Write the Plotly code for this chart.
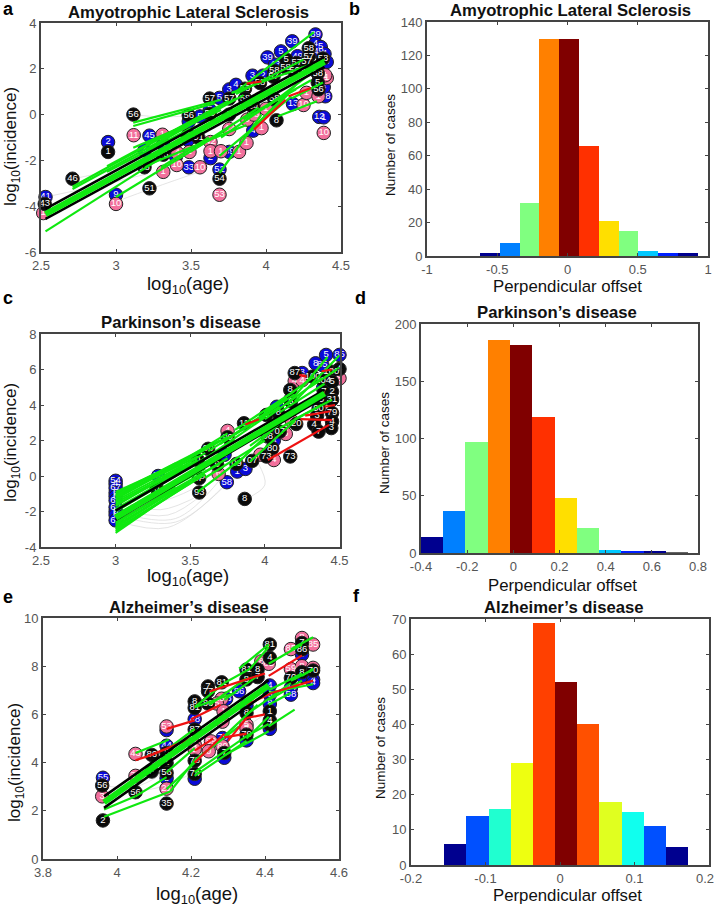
import plotly.graph_objects as go

W, H = 716, 906
BLUE, BLACK, PINK = "#0a0ad8", "#0a0a0a", "#f2709c"
GREEN, RED = "#0fe80f", "#ee1111"

# ---------- panel a: (log age, log incidence, label) ----------
A_BLUE = [(2.53,-3.6,"41"),(2.947,-1.2,"2"),(3.0,-3.5,"9"),(3.223,-0.92,"45"),(3.19,-1.56,"4"),(3.315,-1.3,"4"),(3.4,-1.82,"9"),
          (3.485,-2.3,"33"),(3.485,-0.3,"5"),(3.56,-0.08,"5"),(3.48,-1.1,"4"),(3.625,0.2,"5"),(3.63,-1.9,"2"),(3.69,-2.4,"52"),
          (3.755,-1.63,"49"),(3.69,0.73,"5"),(3.755,1.1,"3"),(3.80,1.3,"4"),(3.915,-0.7,"4"),(3.91,1.7,"3"),(3.98,1.7,"2"),
          (4.01,2.5,"39"),(4.06,2.18,"43"),(4.10,2.76,"5"),(4.175,3.2,"39"),(4.21,2.55,"49"),(4.18,0.46,"13"),(4.33,3.5,"39"),
          (4.33,3.1,"4"),(4.35,2.75,"49"),(4.365,2.95,"5"),(4.39,2.65,"4"),(4.405,2.3,"8"),(4.355,-0.1,"12"),(4.385,-0.12,"1"),
          (4.395,0.8,"28"),(4.385,1.2,"4")]
A_BLACK = [(2.525,-3.9,"43"),(2.71,-2.8,"46"),(2.947,-1.63,"1"),(3.116,0,"56"),(3.223,-3.22,"51"),(3.315,-1.75,"43"),(3.19,-2.3,"18"),
           (3.485,-0.03,"56"),(3.55,-1.02,"91"),(3.48,-0.88,"4"),(3.625,0.03,"58"),(3.625,0.7,"57"),(3.69,-2.8,"54"),(3.755,0.7,"57"),
           (3.755,0,"5"),(3.86,1.13,"53"),(3.86,0.7,"58"),(3.915,0.33,"54"),(3.96,1.38,"58"),(4.055,0.68,"58"),(4.07,-0.25,"8"),
           (4.055,1.9,"58"),(4.05,1.65,"57"),(4.13,2.06,"58"),(4.135,2.4,"5"),(4.205,2.25,"57"),(4.19,1.9,"56"),(4.285,2.9,"58"),
           (4.285,2.55,"57"),(4.27,2.3,"57"),(4.345,1.8,"58"),(4.35,1.1,"56"),(4.345,1.4,"5"),(4.38,2.45,"58")]
A_PINK = [(2.515,-4.3,"1"),(3.0,-3.9,"10"),(3.118,-0.9,"11"),(3.31,-0.88,"1"),(3.315,-2.5,"1"),(3.405,-2.2,"10"),(3.56,-2.3,"10"),
          (3.49,-1.63,"1"),(3.41,-1.68,"4"),(3.63,-1.2,"42"),(3.63,-1.6,"1"),(3.69,-3.5,"53"),(3.70,-1.6,"1"),(3.755,-0.63,"42"),
          (3.82,-1.63,"1"),(3.87,-1.24,"1"),(3.875,-0.22,"0"),(3.92,0,"53"),(3.97,-0.59,"1"),(4.0,0.25,"1"),(4.25,0.42,"10"),
          (4.27,0.95,"1"),(4.35,0.8,"1"),(4.385,-0.8,"10"),(4.405,1.6,"1"),(4.395,1.72,"1")]
A_GREEN = [(2.53,-5.1,3.3,-1.9),(2.71,-3.25,3.48,-0.5),(2.71,-3.15,3.57,-0.05),(2.94,-2.25,3.75,0.6),(3.0,-3.6,3.75,-0.6),
           (3.115,-0.5,3.66,0.5),(3.115,-0.35,3.7,0.65),(3.115,-1.45,3.65,0.05),(3.19,-2.25,3.87,-0.45),(3.2,-1.55,3.85,0.85),
           (3.69,-2.55,3.97,0.0),(3.69,-1.8,4.17,0.8),(3.91,-0.6,4.2,1.3),(3.79,0.95,4.32,3.6),(3.77,0.95,4.39,2.4),
           (4.08,-0.07,4.34,0.58),(4.17,0.7,4.38,1.4),(3.87,-0.9,4.15,0.9),(3.3,-2.3,3.62,-1.0),(3.5,-1.6,3.95,0.3),
           (3.7,-1.0,4.1,0.8),(4.0,0.3,4.3,1.8),(3.8,0.9,4.25,2.4),(3.6,-0.6,4.05,1.3),(3.4,-1.0,3.9,0.75),
           (3.2,-1.3,3.7,0.2),(3.3,-1.1,3.8,0.7),(2.94,-2.5,3.5,-0.6),(3.85,-0.2,4.2,1.1),(3.95,0.2,4.3,1.5)]
A_RED = [(3.92,-0.65,4.13,0.65),(4.15,0.8,4.3,1.16),(3.87,1.35,3.97,1.45)]
A_MAIN_BLACK = [(2.53,-4.12,4.39,2.52),(2.53,-4.55,4.39,2.08)]
A_MAIN_GREEN = (2.53,-4.35,4.39,2.3)
A_GRAY = [[(2.53,-3.6),(2.95,-3.0),(3.2,-2.6)],[(2.72,-2.8),(2.95,-2.5),(3.2,-2.3)],[(3.0,-3.8),(3.25,-3.2),(3.6,-2.4)],[(3.12,0),(3.3,-0.1),(3.6,0)]]

# ---------- panel c ----------
C_BLUE = [(3,-0.27,"54"),(3,-0.45,"4"),(3,-0.68,"67"),(3,-0.95,"6"),(3,-1.15,"6"),(3,-1.38,"65"),(3,-1.76,"62"),(3,-2.0,"6"),(3,-2.2,"6"),(3,-2.5,"66"),
          (3.285,0.0,"05"),(3.745,-0.35,"58"),(3.815,0.25,"1"),(3.87,0.4,"3"),(3.73,1.2,"4"),(4.06,2.0,"4"),(4.08,3.9,"4"),
          (4.17,4.3,"0"),(4.25,5.8,"8"),(4.385,6.25,"85"),(4.34,6.35,"8"),(4.41,6.82,"5"),(4.5,6.82,"85"),(4.39,4.95,"4")]
C_BLACK = [(3.275,-0.69,"0"),(3.55,0.9,"0"),(3.62,1.53,"90"),(3.56,-0.12,"0P"),(3.56,-0.93,"93"),(3.68,0.65,"9"),(3.75,2.18,"90"),
           (3.81,0.68,"09"),(3.915,0.85,"07"),(3.865,-1.29,"8"),(3.86,2.97,"11"),(4.01,1.1,"73"),(4.17,1.1,"73"),(4.05,1.56,"80"),
           (4.02,2.22,"08"),(4.1,2.5,"07"),(4.01,3.44,"5"),(4.09,3.55,"8"),(4.21,2.93,"20"),(4.17,4.85,"8"),(4.175,4.2,"5"),
           (4.2,5.8,"87"),(4.32,5.6,"100"),(4.39,5.4,"104"),(4.445,5.88,"100"),(4.5,6.03,"4"),(4.45,4.75,"2"),(4.395,4.75,"7"),
           (4.45,4.3,"31"),(4.38,4.3,"9"),(4.36,3.8,"90"),(4.45,3.55,"79"),(4.35,3.4,"3"),(4.45,3.07,"4"),(4.445,2.7,"3"),
           (4.33,2.9,"4"),(4.36,2.5,"7"),(4.45,5.3,"5")]
C_PINK = [(3.69,0.12,"6"),(3.75,2.54,"4"),(4.06,0.9,"4"),(3.97,1.2,"4"),(4.14,2.37,"5"),(4.18,3.1,"4"),(4.2,5.35,"4"),(4.25,5.4,"4"),(4.5,5.5,"6")]
C_GREEN = [(3,-3.2,3.55,0),(3,-3.0,3.6,0.1),(3,-2.8,3.75,1.0),(3,-2.6,3.7,0.7),(3,-1.0,3.7,2.0),(3,-1.3,3.75,2.2),(3,-1.5,3.55,0.9),
           (3,-1.15,3.55,1.1),(3,-0.9,3.5,1.0),(3,-1.7,3.6,1.3),(3.27,-0.6,3.6,1.0),(3.3,0.1,3.75,2.4),(3,-2.0,3.8,2.0),(3,-2.2,3.65,0.9),
           (3.55,-0.9,3.85,1.0),(3.6,-0.1,4.0,2.0),(3.55,0.7,4.0,3.3),(3.62,1.4,4.1,3.9),(3.8,0.6,4.1,3.0),(3.9,0.8,4.2,3.1),
           (4.15,4.0,4.42,6.7),(4.2,4.2,4.5,6.8),(4.3,5.0,4.5,6.1),(4.0,3.2,4.38,5.5),(4.0,3.6,4.33,5.6),(4.1,3.6,4.4,5.2),
           (4.2,3.2,4.45,4.3),(4.1,2.7,4.38,4.0),(3.75,2.1,4.2,4.6),
           (3,-3.1,3.5,-0.4),(3,-2.9,3.45,-0.5),(3,-2.7,3.4,-0.6),(3,-1.2,3.6,1.5),(3,-1.1,3.4,0.7),(3,-1.4,3.45,0.6),(3,-1.6,3.5,0.6),
           (3,-1.85,3.55,0.8),(3.3,-1.0,3.6,0.4),(3.7,1.8,4.15,4.4),(3.8,2.6,4.2,4.8),(3.9,1.7,4.3,4.2)]
C_RED = [(4.02,0.9,4.43,2.88),(3.87,2.9,3.96,3.2),(4.24,3.2,4.45,3.15),(4.27,3.4,4.44,3.65),(4.4,3.9,4.47,4.0),(4.23,5.7,4.28,5.6),(4.38,5.9,4.45,6.0)]
C_MAIN_BLACK = [(3,-1.95,4.4,4.85),(3,-2.47,4.4,4.45)]
C_MAIN_GREEN = (3,-2.35,4.4,4.65)
C_GRAY = [[(3,-2.5),(3.35,-2.9),(3.75,-0.4)],[(3,-2.2),(3.4,-2.6),(3.72,-0.6)],[(3,-1.8),(3.35,-2.2),(3.6,-0.9)],
          [(3,-1.3),(3.3,-1.9),(3.58,-1.0)],[(3,-0.9),(3.25,-1.5),(3.55,-0.6)],[(3,-0.4),(3.2,-0.9),(3.55,-0.3)],
          [(3.0,-2.0),(3.4,-2.4),(3.7,-0.2)],[(3.87,-1.3),(4.0,-0.5),(3.95,0.8)]]

# ---------- panel e ----------
E_BLUE = [(3.962,3.37,"55"),(4.134,5.35,"5"),(4.134,4.7,"44"),(4.134,3.35,"5"),(4.21,5.8,"48"),(4.21,3.33,"3"),(4.295,6.65,"88"),
          (4.285,5.02,"79"),(4.29,4.2,"4"),(4.33,6.96,"86"),(4.35,6.36,"4"),(4.35,4.92,"9"),(4.413,7.2,"4"),(4.413,6.82,"6"),
          (4.413,6.43,"8"),(4.413,5.4,"2"),(4.47,7.1,"44"),(4.47,6.82,"58"),(4.5,8.48,"6"),(4.5,7.6,"4"),(4.53,7.44,"4"),(4.53,7.3,"4")]
E_BLACK = [(3.962,1.6,"2"),(3.96,3.05,"56"),(4.05,2.77,"56"),(4.094,4.32,"86"),(4.094,3.63,"5"),(4.134,4.4,"8"),(4.134,3.98,"1"),
           (4.134,3.57,"56"),(4.134,2.3,"35"),(4.21,6.54,"8"),(4.21,6.27,"81"),(4.21,5.37,"87"),(4.21,4.08,"78"),(4.21,3.53,"74"),
           (4.246,7.16,"7"),(4.246,6.96,"77"),(4.246,6.45,"86"),(4.283,7.33,"81"),(4.29,4.4,"7"),(4.35,7.86,"81"),(4.35,7.45,"8"),
           (4.35,6.06,"8"),(4.35,5.16,"79"),(4.38,7.86,"8"),(4.38,7.55,"7"),(4.413,8.9,"81"),(4.413,8.35,"4"),(4.413,6.13,"1"),
           (4.413,5.75,"4"),(4.413,5.58,"7"),(4.47,7.51,"70"),(4.5,8.96,"7"),(4.5,8.69,"86"),(4.5,7.75,"8"),(4.53,7.82,"70")]
E_PINK = [(3.96,2.6,"3"),(4.05,3.45,"35"),(4.05,4.36,"43"),(4.134,5.5,"53"),(4.134,2.92,"21"),(4.21,4.75,"4"),(4.21,4.55,"9"),
          (4.254,4.88,"89"),(4.248,4.47,"0"),(4.283,6.65,"6"),(4.27,6.45,"5"),(4.288,6.13,"1"),(4.285,5.7,"5"),(4.285,4.68,"80"),
          (4.35,5.57,"5"),(4.35,5.43,"2"),(4.375,7.76,"89"),(4.39,8.2,"8"),(4.41,8.1,"85"),(4.47,8.71,"85"),(4.47,7.88,"59"),
          (4.5,9.17,"8"),(4.5,8.0,"8"),(4.53,8.9,"85"),(4.53,7.93,"8")]
E_GREEN = [(3.965,1.75,4.144,2.8),(4.144,2.8,4.21,4.1),(3.965,2.05,4.05,2.6),(4.05,2.6,4.134,3.4),(4.134,2.9,4.21,4.0),
           (4.21,3.45,4.35,4.9),(4.21,3.6,4.35,5.1),(4.35,5.1,4.41,5.6),(4.29,4.3,4.41,5.3),(4.41,6.9,4.53,7.25),(4.41,6.4,4.47,6.9),
           (4.21,6.3,4.29,7.3),(4.29,7.3,4.36,7.9),(4.36,7.9,4.41,8.8),(4.25,6.4,4.35,7.5),(4.47,8.7,4.53,9.2),(4.41,8.1,4.5,8.9),
           (4.33,7.9,4.41,8.9),(4.14,4.6,4.21,5.4),(4.05,3.4,4.21,5.1),(4.35,6.0,4.47,7.3),(4.41,7.0,4.5,7.7),(4.47,7.4,4.53,7.85),
           (4.41,6.6,4.5,7.4),(4.5,7.6,4.53,7.9),(4.21,6.3,4.32,6.9),(4.05,4.4,4.14,4.95),(4.134,3.6,4.21,4.6),(4.21,4.1,4.33,5.5),
           (4.29,5.1,4.38,6.4),(4.41,5.5,4.48,6.2),(4.35,5.0,4.41,5.9),(4.29,6.6,4.38,7.6)]
E_RED = [(4.05,4.1,4.09,4.3),(4.09,4.3,4.2,5.0),(4.134,5.4,4.21,5.75),(4.21,4.0,4.29,5.2),(4.29,5.05,4.35,5.2),(4.25,6.95,4.34,7.4),
         (4.34,7.4,4.4,7.7),(4.2,5.8,4.28,6.4),(4.3,4.9,4.35,5.85),(4.35,5.85,4.4,6.0),(4.35,6.4,4.42,6.9),(4.42,6.9,4.53,7.4),
         (4.41,7.6,4.5,8.45),(4.21,4.5,4.26,5.0)]
E_MAIN_BLACK = [(3.965,2.6,4.41,7.42),(3.965,2.12,4.41,6.95)]
E_MAIN_GREEN = (3.965,2.35,4.41,7.2)
E_GRAY = [[(3.96,3.05),(4.05,3.0),(4.13,3.6)],[(4.05,2.8),(4.12,3.0),(4.21,3.6)],[(4.3,5.0),(4.36,5.6),(4.41,6.1)]]

# ---------- histograms ----------
B_CENTERS = [-0.551,-0.410,-0.270,-0.129,0.012,0.153,0.294,0.434,0.575,0.716,0.856]
B_COUNTS = [2,8,32,130,130,66,21,15,3,2,2]
B_COLORS = ["#00008f","#0080ff","#80ff80","#ff8000","#800000","#ff3000","#ffdf00","#80ff80","#00c8ff","#0020ff","#00008f"]
D_CENTERS = [-0.352,-0.255,-0.159,-0.062,0.034,0.131,0.227,0.324,0.420,0.517,0.613,0.710]
D_COUNTS = [14,37,97,186,182,119,48,22,3,1,1,0.5]
D_COLORS = ["#00008f","#0080ff","#80ff80","#ff8000","#800000","#ff3000","#ffdf00","#80ff80","#00c8ff","#0020ff","#00008f","#666666"]
F_CENTERS = [-0.1405,-0.1107,-0.0810,-0.0512,-0.0215,0.0082,0.0380,0.0677,0.0975,0.1272,0.1570]
F_COUNTS = [6,14,16,29,69,52,40,18,15,11,5]
F_COLORS = ["#00008f","#0050ff","#20ffd0","#eeff10","#ff4000","#800000","#ff5000","#e0ff20","#10ffee","#0050ff","#00008f"]

TICK = "#555555"
FAM = "Liberation Sans, Arial, sans-serif"
fig = go.Figure()

def px_x(v): return v / W
def px_y(v): return 1 - v / H

def setup(idx, box, xr, yr, xt, yt):
    l, r, t, b = box
    base = dict(showline=True, linecolor="#444444", linewidth=2, mirror="ticks", ticks="inside", ticklen=3,
                tickcolor="#444444", tickwidth=1, showgrid=False, zeroline=False, automargin=False,
                tickfont=dict(family=FAM, size=13, color=TICK))
    s = "" if idx == 1 else str(idx)
    fig.layout["xaxis" + s] = dict(base, domain=[px_x(l), px_x(r)], range=xr, tickvals=xt, ticktext=[f"{v:g}" for v in xt], anchor="y" + s)
    fig.layout["yaxis" + s] = dict(base, domain=[px_y(b), px_y(t)], range=yr, tickvals=yt, ticktext=[f"{v:g}" for v in yt], anchor="x" + s)
    return "x" + s, "y" + s

def scatter_panel(idx, box, xr, yr, xt, yt, blue, black, pink, green, red, mblack, mgreen, gray):
    xa, ya = setup(idx, box, xr, yr, xt, yt)
    for curve in gray:
        fig.add_trace(go.Scatter(x=[p[0] for p in curve], y=[p[1] for p in curve], mode="lines", xaxis=xa, yaxis=ya,
                                 line=dict(color="#dddddd", width=0.8, shape="spline"), showlegend=False, hoverinfo="skip"))
    for pts, col in ((blue, BLUE), (pink, PINK), (black, BLACK)):
        fig.add_trace(go.Scatter(x=[p[0] for p in pts], y=[p[1] for p in pts], text=[p[2] for p in pts], mode="markers+text",
                                 xaxis=xa, yaxis=ya, cliponaxis=False, showlegend=False, textposition="middle center",
                                 textfont=dict(family=FAM, size=9.5, color="white"),
                                 marker=dict(size=13.5, color=col, line=dict(color="#222222", width=1))))
    def segs(lst, col, w):
        for s_ in lst:
            fig.add_trace(go.Scatter(x=[s_[0], s_[2]], y=[s_[1], s_[3]], mode="lines", xaxis=xa, yaxis=ya, cliponaxis=False,
                                     line=dict(color=col, width=w), showlegend=False, hoverinfo="skip"))
    segs(green, GREEN, 2.2)
    segs(red, RED, 2.2)
    segs(mblack, "#000000", 2.6)
    segs([mgreen], GREEN, 6)

def hist_panel(idx, box, xr, yr, xt, yt, centers, counts, colors):
    xa, ya = setup(idx, box, xr, yr, xt, yt)
    w = centers[1] - centers[0]
    fig.add_trace(go.Bar(x=centers, y=counts, width=w, marker=dict(color=colors, line=dict(width=0)), xaxis=xa, yaxis=ya, showlegend=False))

scatter_panel(1, (41, 341, 23, 252), [2.5, 4.5], [-6, 4], [2.5, 3, 3.5, 4, 4.5], [-6, -4, -2, 0, 2, 4],
              A_BLUE, A_BLACK, A_PINK, A_GREEN, A_RED, A_MAIN_BLACK, A_MAIN_GREEN, A_GRAY)
hist_panel(2, (427, 708, 22, 256), [-1, 1], [0, 140], [-1, -0.5, 0, 0.5, 1], list(range(0, 141, 20)), B_CENTERS, B_COUNTS, B_COLORS)
scatter_panel(3, (41, 339.5, 334, 547), [2.5, 4.5], [-4, 8], [2.5, 3, 3.5, 4, 4.5], [-4, -2, 0, 2, 4, 6, 8],
              C_BLUE, C_BLACK, C_PINK, C_GREEN, C_RED, C_MAIN_BLACK, C_MAIN_GREEN, C_GRAY)
hist_panel(4, (421, 698, 324, 553), [-0.4, 0.8], [0, 200], [-0.4, -0.2, 0, 0.2, 0.4, 0.6, 0.8], [0, 50, 100, 150, 200], D_CENTERS, D_COUNTS, D_COLORS)
scatter_panel(5, (43, 339, 618, 859), [3.8, 4.6], [0, 10], [3.8, 4, 4.2, 4.4, 4.6], [0, 2, 4, 6, 8, 10],
              E_BLUE, E_BLACK, E_PINK, E_GREEN, E_RED, E_MAIN_BLACK, E_MAIN_GREEN, E_GRAY)
hist_panel(6, (411, 709, 619, 865), [-0.2, 0.2], [0, 70], [-0.2, -0.1, 0, 0.1, 0.2], list(range(0, 71, 10)), F_CENTERS, F_COUNTS, F_COLORS)

def note(text, x, y, size, bold=False, angle=0, color="#111111"):
    fig.add_annotation(text=f"<b>{text}</b>" if bold else text, xref="paper", yref="paper", x=px_x(x), y=px_y(y), showarrow=False,
                       xanchor="center", yanchor="middle", textangle=angle, font=dict(family=FAM, size=size, color=color))

LOGAGE = "log<sub>10</sub>(age)"
LOGINC = "log<sub>10</sub>(incidence)"
OFFSET = "Perpendicular offset"
CASES = "Number of cases"
for t, x, y in (("Amyotrophic Lateral Sclerosis", 188, 13), ("Amyotrophic Lateral Sclerosis", 570, 11), ("Parkinson’s disease", 181, 322),
                ("Parkinson’s disease", 557, 312), ("Alzheimer’s disease", 189, 607), ("Alzheimer’s disease", 564, 607)):
    note(t, x, y, 16.7, bold=True)
for t, x, y in ((LOGAGE, 188, 285), (LOGAGE, 188, 577), (LOGAGE, 197, 895)):
    note(t, x, y, 18.5)
for t, x, y in ((OFFSET, 567, 287), (OFFSET, 562, 585), (OFFSET, 567, 895)):
    note(t, x, y, 16.8)
for t, x, y in ((LOGINC, 12, 147), (LOGINC, 12, 443), (LOGINC, 16, 763)):
    note(t, x, y, 17, angle=-90)
for t, x, y in ((CASES, 390, 145), (CASES, 385, 443), (CASES, 380, 748)):
    note(t, x, y, 13.5, angle=-90)
for t, x, y in (("a", 8, 9), ("b", 354, 9), ("c", 8, 298), ("d", 360, 298), ("e", 8, 597), ("f", 356, 596)):
    note(t, x, y, 18, bold=True, color="#000000")
note("0.2", 705, 878, 13, color=TICK)

fig.update_layout(width=W, height=H, margin=dict(l=0, r=0, t=0, b=0, autoexpand=False), paper_bgcolor="white", plot_bgcolor="white", bargap=0)
fig.write_html("out.html", config={"displayModeBar": False},
               post_script="document.body.style.margin='0';document.body.style.overflow='hidden';")
